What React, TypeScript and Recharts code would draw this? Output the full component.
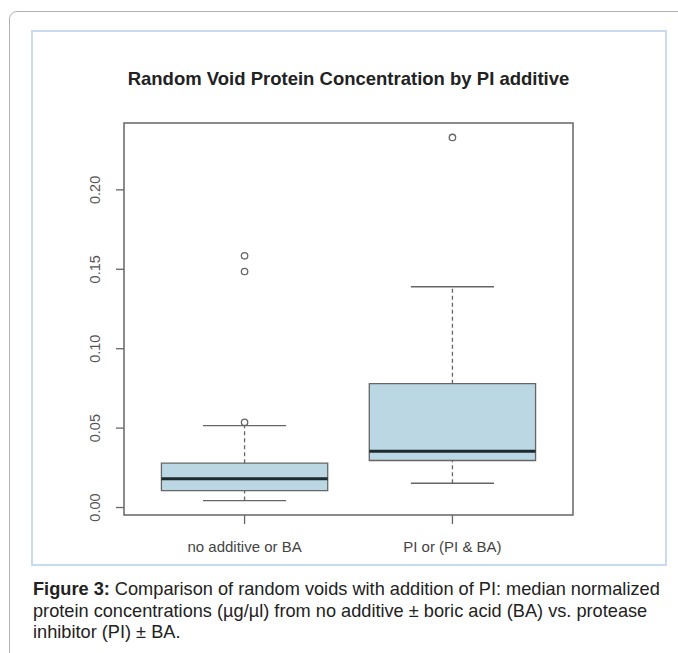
import React from 'react';
import {
  ComposedChart,
  XAxis,
  YAxis,
  Scatter,
  ReferenceArea,
  ReferenceLine,
} from 'recharts';

const categories = ['no additive or BA', 'PI or (PI & BA)'];
const positions = [1, 2];
const whiskerLow = [0.0044, 0.0153];
const q1 = [0.0107, 0.0296];
const median = [0.0182, 0.0354];
const q3 = [0.0279, 0.078];
const whiskerHigh = [0.0516, 0.139];
const outliersA = [0.0537, 0.1486, 0.1585];
const outliersB = [0.233];
const yTicks = [0, 0.05, 0.1, 0.15, 0.2];

const FONT = '"Liberation Sans", Arial, sans-serif';
const BOX_FILL = '#bad7e3';
const GREY = '#666';

const outlierData = [
  ...outliersA.map(v => ({ x: positions[0], y: v })),
  ...outliersB.map(v => ({ x: positions[1], y: v })),
];

// R's default axis padding (4% each side)
const X_DOMAIN = [0.42, 2.58];
const Y_DOMAIN = [-0.0047, 0.2421];
const HALF_BOX = 0.4;
const HALF_CAP = 0.2;

function YTick(props: any) {
  const { x, y, payload } = props;
  const tx = x - 14;
  return (
    <text
      x={tx}
      y={y}
      transform={`rotate(-90 ${tx} ${y})`}
      textAnchor="middle"
      fontSize={14.5}
      fill="#555"
      fontFamily={FONT}
    >
      {Number(payload.value).toFixed(2)}
    </text>
  );
}

function XTick(props: any) {
  const { x, y, payload } = props;
  return (
    <text x={x} y={y + 26} textAnchor="middle" fontSize={15} fill="#444" fontFamily={FONT}>
      {categories[payload.value - 1]}
    </text>
  );
}

const Circle = (props: any) => (
  <circle cx={props.cx} cy={props.cy} r={3.2} fill="none" stroke={GREY} strokeWidth={1.3} />
);

export default function App() {
  return (
    <div style={{ position: 'absolute', left: 0, top: 0, width: 678, height: 653, background: '#fff', overflow: 'hidden', fontFamily: FONT }}>
      <div
        style={{
          position: 'absolute',
          left: 9,
          top: 11,
          width: 700,
          height: 700,
          border: '1px solid #b0b0b0',
          borderRadius: 8,
        }}
      />
      <div
        style={{
          position: 'absolute',
          left: 31,
          top: 30,
          width: 632,
          height: 532,
          border: '2px solid #c8daf0',
        }}
      />
      <div
        style={{
          position: 'absolute',
          left: 0,
          width: 697,
          top: 68,
          textAlign: 'center',
          fontWeight: 'bold',
          fontSize: 18.5,
          color: '#222',
        }}
      >
        Random Void Protein Concentration by PI additive
      </div>

      <div style={{ position: 'absolute', left: 0, top: 0 }}>
        <ComposedChart
          width={678}
          height={653}
          margin={{ top: 123, left: 64, right: 105, bottom: 98 }}
        >
          <XAxis
            type="number"
            dataKey="x"
            domain={X_DOMAIN}
            ticks={positions}
            allowDataOverflow
            height={40}
            axisLine={false}
            tickSize={9}
            tickLine={{ stroke: GREY, strokeWidth: 1.3 }}
            tick={<XTick />}
            interval={0}
          />
          <YAxis
            type="number"
            dataKey="y"
            domain={Y_DOMAIN}
            ticks={yTicks}
            allowDataOverflow
            width={60}
            axisLine={false}
            tickSize={8}
            tickLine={{ stroke: GREY, strokeWidth: 1.3 }}
            tick={<YTick />}
            interval={0}
          />
          {/* plot frame */}
          <ReferenceArea
            x1={X_DOMAIN[0]}
            x2={X_DOMAIN[1]}
            y1={Y_DOMAIN[0]}
            y2={Y_DOMAIN[1]}
            fill="none"
            fillOpacity={0}
            stroke={GREY}
            strokeWidth={1.5}
            ifOverflow="visible"
          />
          {positions.map((p, i) => (
            <React.Fragment key={p}>
              <ReferenceLine
                segment={[{ x: p, y: q3[i] }, { x: p, y: whiskerHigh[i] }]}
                stroke={GREY}
                strokeWidth={1.3}
                strokeDasharray="4 3"
              />
              <ReferenceLine
                segment={[{ x: p, y: whiskerLow[i] }, { x: p, y: q1[i] }]}
                stroke={GREY}
                strokeWidth={1.3}
                strokeDasharray="4 3"
              />
              <ReferenceLine
                segment={[{ x: p - HALF_CAP, y: whiskerHigh[i] }, { x: p + HALF_CAP, y: whiskerHigh[i] }]}
                stroke={GREY}
                strokeWidth={1.3}
              />
              <ReferenceLine
                segment={[{ x: p - HALF_CAP, y: whiskerLow[i] }, { x: p + HALF_CAP, y: whiskerLow[i] }]}
                stroke={GREY}
                strokeWidth={1.3}
              />
              <ReferenceArea
                x1={p - HALF_BOX}
                x2={p + HALF_BOX}
                y1={q1[i]}
                y2={q3[i]}
                fill={BOX_FILL}
                fillOpacity={1}
                stroke={GREY}
                strokeWidth={1.3}
              />
              <ReferenceLine
                segment={[{ x: p - HALF_BOX, y: median[i] }, { x: p + HALF_BOX, y: median[i] }]}
                stroke="#1e2b2e"
                strokeWidth={3}
              />
            </React.Fragment>
          ))}
          <Scatter data={outlierData} shape={<Circle />} isAnimationActive={false} />
        </ComposedChart>
      </div>

      <div
        style={{
          position: 'absolute',
          left: 33,
          top: 579,
          fontSize: 18.2,
          lineHeight: '21.5px',
          color: '#222',
          whiteSpace: 'nowrap',
        }}
      >
        <div>
          <b>Figure 3:</b> Comparison of random voids with addition of PI: median normalized
        </div>
        <div>protein concentrations (µg/µl) from no additive ± boric acid (BA) vs. protease</div>
        <div>inhibitor (PI) ± BA.</div>
      </div>
    </div>
  );
}
